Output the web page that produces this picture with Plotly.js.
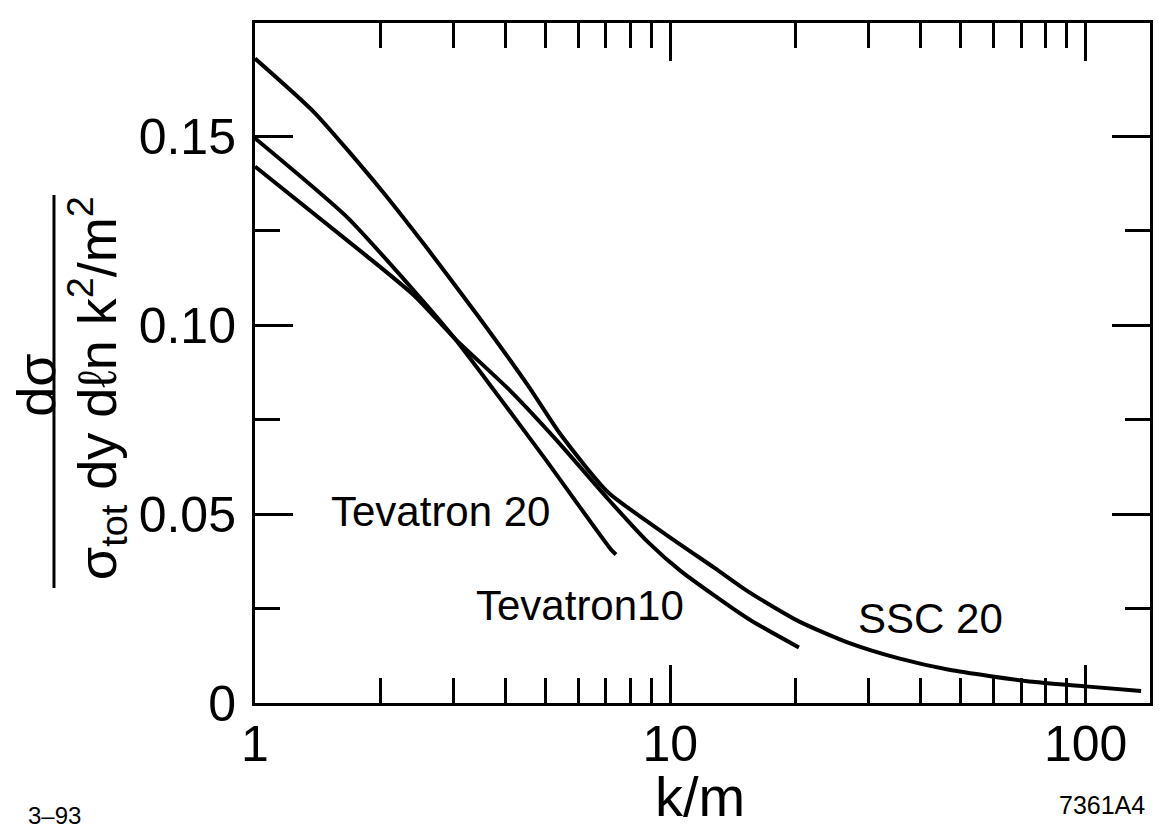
<!DOCTYPE html>
<html>
<head>
<meta charset="utf-8">
<script src="https://cdn.plot.ly/plotly-3.0.1.min.js"></script>
<style>html,body{margin:0;padding:0;background:#fff;}#chart{width:1159px;height:832px;}</style>
</head>
<body>
<div id="chart"></div>
<script>
// k/m values and normalized cross sections
const sscX = [1.0, 1.39, 2.0, 2.6, 3.44, 4.54, 5.45, 7.08, 10.0, 12.8, 15.4, 20.4, 26.9, 35.5, 46.9, 74.5, 100, 136];
const sscY = [0.1706, 0.1563, 0.1362, 0.1203, 0.1025, 0.0841, 0.0710, 0.0558, 0.0438, 0.0357, 0.0295, 0.0216, 0.0159, 0.0118, 0.0088, 0.0056, 0.0044, 0.0032];

const tev20X = [1.0, 1.67, 2.42, 3.02, 3.78, 4.99, 7.2, 7.4];
const tev20Y = [0.1495, 0.1285, 0.1090, 0.0966, 0.0825, 0.0647, 0.0406, 0.0393];

const tev10X = [1.0, 1.83, 2.42, 3.02, 4.13, 5.36, 7.08, 8.85, 10.6, 15.4, 20.4];
const tev10Y = [0.1420, 0.1189, 0.1078, 0.0966, 0.0825, 0.0692, 0.0540, 0.0425, 0.0349, 0.0223, 0.0147];

const seriesNames = ["SSC 20", "Tevatron 20", "Tevatron10"];

const xTickVals = [1, 10, 100];
const xTickText = ["1", "10", "100"];
const xMinorVals = [2, 3, 4, 5, 6, 7, 8, 9, 20, 30, 40, 50, 60, 70, 80, 90];
const yTickVals = [0, 0.05, 0.10, 0.15];
const yTickText = ["0", "0.05", "0.10", "0.15"];
const yMinorVals = [0.025, 0.075, 0.125];

const FONT = "Liberation Sans, Arial, Helvetica, sans-serif";
const lineStyle = {color: "#000", width: 4, shape: "spline", smoothing: 0.6};

const traces = [
  {x: sscX, y: sscY, name: seriesNames[0], mode: "lines", line: lineStyle},
  {x: tev20X, y: tev20Y, name: seriesNames[1], mode: "lines", line: lineStyle},
  {x: tev10X, y: tev10Y, name: seriesNames[2], mode: "lines", line: lineStyle}
];

function label(text, x, y, size, angle) {
  return {text: text, xref: "paper", yref: "paper", x: x, y: y, xanchor: "center", yanchor: "middle",
          textangle: angle || 0, showarrow: false, font: {size: size, family: FONT, color: "#000"}};
}

const layout = {
  width: 1159, height: 832,
  margin: {l: 255, r: 9, t: 23, b: 129},
  paper_bgcolor: "#fff", plot_bgcolor: "#fff",
  showlegend: false,
  font: {family: FONT, color: "#000"},
  xaxis: {
    type: "log", range: [0, 2.155],
    tickmode: "array", tickvals: xTickVals, ticktext: xTickText,
    ticks: "inside", ticklen: 38, tickwidth: 3, tickcolor: "#000",
    showline: true, linewidth: 3, linecolor: "#000", mirror: "ticks",
    showgrid: false, zeroline: false,
    tickfont: {size: 50, family: FONT, color: "#000"},
    ticklabelstandoff: -5,
    minor: {tickmode: "array", tickvals: xMinorVals, ticks: "inside", ticklen: 25, tickwidth: 3, tickcolor: "#000", showgrid: false}
  },
  yaxis: {
    range: [0, 0.18],
    tickmode: "array", tickvals: yTickVals, ticktext: yTickText,
    ticks: "inside", ticklen: 38, tickwidth: 3, tickcolor: "#000",
    showline: true, linewidth: 3, linecolor: "#000", mirror: "ticks",
    showgrid: false, zeroline: false,
    tickfont: {size: 50, family: FONT, color: "#000"},
    ticklabelstandoff: 6,
    minor: {tickmode: "array", tickvals: yMinorVals, ticks: "inside", ticklen: 25, tickwidth: 3, tickcolor: "#000", showgrid: false}
  },
  annotations: [
    label(seriesNames[1], 0.2078, 0.281, 42),
    label(seriesNames[2], 0.363, 0.144, 42),
    label(seriesNames[0], 0.755, 0.125, 42),
    label("k/m", 0.497, -0.138, 56),
    label("7361A4", 0.946, -0.15, 25),
    label("3–93", -0.2235, -0.166, 24),
    label("dσ", -0.2447, 0.468, 54, -90),
    label("σ<sub>tot</sub> dy dℓn k<sup>2</sup>/m<sup>2</sup>", -0.1765, 0.463, 54, -90)
  ],
  shapes: [
    {type: "line", xref: "paper", yref: "paper", x0: -0.2246, x1: -0.2246, y0: 0.169, y1: 0.747, line: {color: "#000", width: 3}}
  ]
};

Plotly.newPlot("chart", traces, layout, {displayModeBar: false, staticPlot: true});
</script>
</body>
</html>
